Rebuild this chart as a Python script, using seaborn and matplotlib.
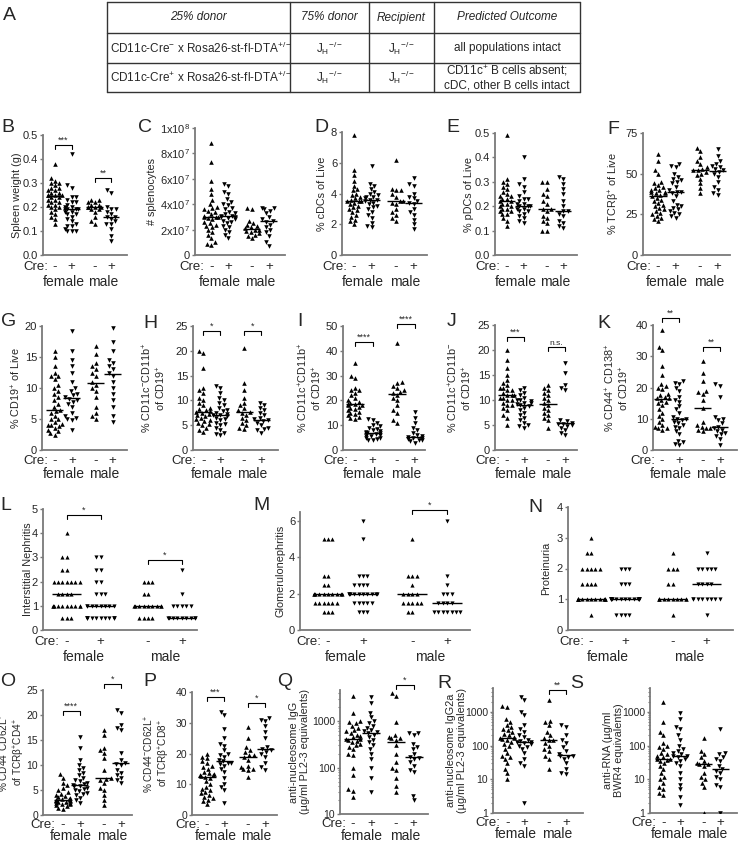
import warnings
import numpy as np
import pandas as pd
import matplotlib
matplotlib.use("Agg")
import matplotlib.pyplot as plt
import matplotlib.transforms as mtransforms
from matplotlib.ticker import LogLocator, NullFormatter, FixedLocator
import seaborn as sns

warnings.filterwarnings("ignore")

sns.set_style("ticks")
plt.rcParams['font.family'] = ['Liberation Sans', 'DejaVu Sans']
plt.rcParams['mathtext.fontset'] = 'custom'
plt.rcParams['mathtext.rm'] = 'Liberation Sans'
plt.rcParams['mathtext.it'] = 'Liberation Sans:italic'
plt.rcParams['mathtext.bf'] = 'Liberation Sans:bold'

# ---- data, groups: female Cre-, female Cre+, male Cre-, male Cre+
spleen_f_neg = [0.38, 0.32, 0.31, 0.30, 0.30, 0.29, 0.28, 0.28, 0.27, 0.27, 0.26, 0.26, 0.25, 0.25, 0.25, 0.25,
                0.24, 0.24, 0.23, 0.23, 0.22, 0.22, 0.21, 0.21, 0.20, 0.20, 0.19, 0.18, 0.17, 0.16, 0.15, 0.13]
spleen_f_pos = [0.42, 0.29, 0.28, 0.24, 0.24, 0.23, 0.22, 0.22, 0.21, 0.20, 0.20, 0.19, 0.19, 0.19, 0.19, 0.18,
                0.18, 0.17, 0.17, 0.16, 0.15, 0.14, 0.13, 0.12, 0.12, 0.11, 0.10, 0.10, 0.10]
spleen_m_neg = [0.23, 0.23, 0.22, 0.22, 0.21, 0.21, 0.20, 0.20, 0.20, 0.20, 0.19, 0.19, 0.18, 0.16, 0.14, 0.13]
spleen_m_pos = [0.27, 0.26, 0.20, 0.19, 0.19, 0.18, 0.17, 0.16, 0.16, 0.15, 0.14, 0.13, 0.13, 0.11, 0.08, 0.06]

cells_f_neg = [8.8e7, 7.3e7, 5.8e7, 5.2e7, 4.8e7, 4.3e7, 4.0e7, 3.8e7, 3.7e7, 3.6e7, 3.5e7, 3.4e7, 3.2e7, 3.1e7,
               3.0e7, 3.0e7, 3.0e7, 2.9e7, 2.8e7, 2.6e7, 2.5e7, 2.4e7, 2.3e7, 2.2e7, 2.0e7, 1.8e7, 1.6e7, 1.3e7,
               1.0e7, 0.9e7, 0.8e7]
cells_f_pos = [5.6e7, 5.4e7, 5.0e7, 4.8e7, 4.4e7, 4.2e7, 4.0e7, 3.9e7, 3.7e7, 3.6e7, 3.4e7, 3.3e7, 3.2e7, 3.1e7,
               3.1e7, 3.0e7, 3.0e7, 2.9e7, 2.8e7, 2.7e7, 2.6e7, 2.5e7, 2.3e7, 2.2e7, 2.0e7, 1.8e7, 1.6e7, 1.3e7]
cells_m_neg = [3.7e7, 3.6e7, 2.7e7, 2.5e7, 2.4e7, 2.3e7, 2.2e7, 2.1e7, 2.0e7, 2.0e7, 1.9e7, 1.8e7, 1.7e7, 1.6e7,
               1.5e7, 1.3e7]
cells_m_pos = [3.7e7, 3.7e7, 3.6e7, 3.5e7, 3.3e7, 3.0e7, 2.8e7, 2.7e7, 2.6e7, 2.4e7, 2.2e7, 2.0e7, 1.8e7, 1.5e7,
               1.0e7, 0.7e7]

cdc_f_neg = [7.8, 5.5, 5.2, 4.8, 4.5, 4.3, 4.2, 4.0, 3.9, 3.8, 3.7, 3.6, 3.5, 3.5, 3.5, 3.4, 3.3, 3.2, 3.1, 3.0,
             2.9, 2.8, 2.6, 2.5, 2.3, 2.2, 2.0]
cdc_f_pos = [5.8, 4.6, 4.5, 4.3, 4.1, 4.0, 3.9, 3.8, 3.8, 3.7, 3.6, 3.6, 3.5, 3.4, 3.3, 3.2, 3.1, 3.0, 2.8, 2.6,
             2.4, 2.1, 1.9, 1.8]
cdc_m_neg = [6.2, 4.3, 4.2, 4.2, 4.0, 3.8, 3.5, 3.5, 3.4, 3.3, 3.0, 2.8, 2.6, 2.4, 2.2]
cdc_m_pos = [5.0, 4.6, 4.5, 4.0, 3.8, 3.7, 3.5, 3.4, 3.3, 3.0, 2.8, 2.6, 2.3, 2.0, 1.7]

pdc_f_neg = [0.49, 0.31, 0.30, 0.29, 0.28, 0.27, 0.26, 0.25, 0.24, 0.24, 0.23, 0.23, 0.22, 0.22, 0.21, 0.21,
             0.20, 0.20, 0.19, 0.19, 0.18, 0.18, 0.17, 0.17, 0.15, 0.14, 0.12]
pdc_f_pos = [0.40, 0.31, 0.29, 0.28, 0.26, 0.24, 0.23, 0.23, 0.22, 0.21, 0.21, 0.20, 0.20, 0.20, 0.19, 0.19,
             0.18, 0.18, 0.17, 0.16, 0.15, 0.14, 0.13]
pdc_m_neg = [0.30, 0.30, 0.27, 0.25, 0.24, 0.22, 0.21, 0.19, 0.19, 0.18, 0.16, 0.15, 0.14, 0.13, 0.10, 0.10]
pdc_m_pos = [0.32, 0.31, 0.29, 0.27, 0.25, 0.22, 0.20, 0.18, 0.18, 0.17, 0.16, 0.14, 0.13, 0.12, 0.11]

tcr_f_neg = [62, 58, 52, 50, 45, 44, 43, 42, 41, 40, 40, 39, 39, 38, 38, 37, 36, 35, 34, 33, 32, 31, 30, 29,
             28, 27, 26, 25, 24, 23, 22, 21]
tcr_f_pos = [56, 55, 54, 50, 48, 47, 46, 45, 44, 42, 40, 39, 39, 38, 36, 33, 31, 30, 29, 28, 27, 26, 25, 24, 23]
tcr_m_neg = [66, 64, 60, 58, 56, 54, 53, 52, 52, 51, 50, 49, 47, 44, 41, 38]
tcr_m_pos = [65, 61, 58, 56, 55, 54, 53, 52, 51, 50, 48, 45, 42, 40, 38, 37]

cd19_f_neg = [16, 15, 13.5, 12.5, 12, 12, 11.5, 10.5, 10, 9.5, 9, 8.5, 8, 7.5, 7, 6.5, 6.3, 6, 5.5, 5, 5, 4.5,
              4.2, 4, 4, 3.8, 3.5, 3.2, 3, 2.7, 2.5]
cd19_f_pos = [19.2, 16, 14.5, 13.5, 12.5, 11, 10, 9.5, 9, 8.8, 8.5, 8.3, 8, 7.8, 7.5, 7, 6, 5.5, 5.2, 5, 4.8, 3.2]
cd19_m_neg = [16.8, 15.5, 14, 13.5, 13, 12.5, 12, 11, 10.5, 10, 9.5, 8.5, 7, 6, 5.5, 5.0]
cd19_m_pos = [19.7, 17.5, 16, 14.5, 14, 13.5, 13, 12.5, 12, 11, 10, 9, 8, 7, 5.5, 4.5]

dn_f_neg = [20, 19.5, 16.5, 12.5, 12, 11.5, 10.5, 10, 9.5, 9, 8.5, 8.2, 8, 7.8, 7.6, 7.5, 7.3, 7, 6.8, 6.5, 6.2,
            6, 5.8, 5.5, 5.2, 5, 4.5, 4, 3.7]
dn_f_pos = [13, 12.5, 11.5, 10.5, 10, 9.5, 9, 8.5, 8, 7.8, 7.5, 7.2, 7, 7, 6.8, 6.5, 6.2, 6, 5.5, 5.2, 5, 4.5, 4,
            3.5, 3.2, 3]
dn_m_neg = [20.5, 13.5, 12, 10.5, 9.5, 9, 8.5, 8, 7.7, 7.5, 7, 6.5, 6, 5.5, 5, 4.5, 4.2]
dn_m_pos = [9.5, 9, 8.5, 8, 7.5, 7, 6.5, 6.2, 6, 5.8, 5.5, 5, 4.5, 4.2, 4, 3.5]

dp_f_neg = [35, 30, 29, 25, 24, 24, 23, 22, 21, 20, 19.5, 19, 18.5, 18.5, 18, 18, 17.5, 17, 16.5, 16, 15.5, 15,
            14.5, 14, 13.5, 13, 12.5]
dp_f_pos = [12.5, 12, 11, 10, 9.5, 9, 8.5, 8, 7.5, 7.2, 7, 7, 6.8, 6.5, 6, 5.8, 5.5, 5, 4.8, 4.5, 4.2, 4]
dp_m_neg = [43, 27.5, 27, 26, 25, 24, 23.5, 23, 22, 21, 20, 18, 16, 15, 12, 11]
dp_m_pos = [15.5, 13, 11, 9, 8, 7, 6, 5.5, 5.3, 5, 4.8, 4.5, 4.2, 4, 3.5, 3]

sp_f_neg = [20, 18, 16.5, 15, 14, 13.5, 13, 12.5, 12.5, 12, 12, 11.5, 11, 11, 11, 10.5, 10.5, 10, 10, 9.5, 9, 9,
            8.5, 8, 7, 6.5, 5]
sp_f_pos = [12.5, 12, 11.5, 11, 10.5, 10, 10, 9.8, 9.5, 9.5, 9.2, 9, 8.8, 8.5, 8, 7.5, 7, 6.5, 6, 5.5, 5, 4.8, 4.5]
sp_m_neg = [13, 12.5, 12, 11.5, 11, 10.5, 10, 9.5, 9, 8.5, 8, 7.5, 7, 6.5, 6, 4.5]
sp_m_pos = [17.5, 15.5, 13, 12.5, 12, 6, 5.8, 5.5, 5.3, 5.2, 5, 4.8, 4.5, 4, 3.5, 3]

pc_f_neg = [38.5, 33, 32, 27, 24, 21, 20.5, 20, 19.5, 18, 17.5, 17, 16.5, 16.5, 16, 15.5, 15, 14.5, 13, 12, 11,
            10, 9, 8, 7.5, 7, 7, 6.5]
pc_f_pos = [22, 21.5, 21, 20, 19, 17, 16, 15.5, 14, 13, 12, 10.5, 10, 10, 9.5, 9, 8.5, 8, 7.5, 7, 6, 5, 3, 2.5,
            2, 1.5]
pc_m_neg = [28.5, 24.5, 22, 19, 18.5, 18, 16, 13.5, 9, 8, 7.5, 7, 7, 6.5, 6]
pc_m_pos = [21, 20.5, 17, 10.5, 10, 9.5, 8.5, 7.5, 7, 6.5, 6, 5.5, 5, 4.5, 3.5, 1.5]

in_f_neg = [4] + [3] * 2 + [2.5] * 2 + [2] * 7 + [1.5] * 4 + [1] * 10 + [0.5] * 3
in_f_pos = [3] * 2 + [2.5] * 2 + [2] * 2 + [1.5] * 3 + [1] * 8 + [0.5] * 12
in_m_neg = [2] * 3 + [1.5] * 2 + [1] * 9 + [0.5] * 4
in_m_pos = [2.5] + [1.5] + [1] * 5 + [0.5] * 9

gn_f_neg = [5] * 3 + [3] * 2 + [2.5] * 2 + [2] * 10 + [1.5] * 6 + [1] * 3
gn_f_pos = [6, 5] + [3] * 3 + [2.5] * 4 + [2] * 10 + [1.5] * 5 + [1] * 3
gn_m_neg = [5] + [3] * 3 + [2.5] + [2] * 4 + [1.5] * 5 + [1] * 2
gn_m_pos = [6, 3, 2.5] + [2] * 3 + [1.5] * 4 + [1] * 7

pu_f_neg = [3] + [2.5] * 2 + [2] * 5 + [1.5] * 4 + [1] * 14 + [0.5]
pu_f_pos = [2] * 3 + [1.5] * 3 + [1] * 16 + [0.5] * 4
pu_m_neg = [2.5] + [2] * 3 + [1.5] * 2 + [1] * 10 + [0.5]
pu_m_pos = [2.5] + [2] * 5 + [1.5] * 4 + [1] * 8 + [0.5]

cd4_f_neg = [8.3, 7.5, 6.5, 6, 5.5, 5, 4.6, 4.3, 4, 3.8, 3.6, 3.5, 3.3, 3.2, 3.1, 3.1, 3, 2.9, 2.8, 2.7, 2.6, 2.5,
             2.4, 2.3, 2.2, 2, 1.8, 1.5, 1.3]
cd4_f_pos = [15.7, 13.5, 11, 10, 9.5, 9, 8.5, 8, 7.5, 7, 6.8, 6.5, 6.2, 6, 5.9, 5.8, 5.5, 5.2, 5, 4.8, 4.5, 4.2,
             4, 3.5, 3, 2.5]
cd4_m_neg = [17, 16, 13.5, 13, 12.5, 11.5, 9, 7.5, 7.3, 7, 6.5, 5.5, 5, 4, 3, 2]
cd4_m_pos = [21, 20.5, 18, 17.5, 17, 12.5, 11, 10.5, 10.3, 10, 9, 8.5, 8, 7.5, 7, 6.5]

cd8_f_neg = [20, 19, 18.5, 17.5, 17, 16, 15.5, 15, 14, 13.5, 13.2, 13, 13, 12.8, 12.5, 12, 11, 10, 9, 8.5, 8, 7.5,
             7, 6.5, 6, 5.5, 5, 4.5, 3.5]
cd8_f_pos = [33.5, 32.5, 28, 25, 23, 22.5, 21, 20, 19.5, 19, 18, 17.5, 17, 17, 16.5, 16, 15, 14, 12, 10, 9, 8, 4]
cd8_m_neg = [28.5, 25, 22, 21, 20.5, 19.5, 19.5, 19, 18, 16, 15.5, 15, 15, 14.5, 12.5]
cd8_m_pos = [31.5, 31, 30.5, 29, 27, 25, 22, 21.5, 21, 20.5, 20, 19, 17, 15.5, 14.5]

nuc_f_neg = [3500, 1500, 1000, 950, 900, 800, 700, 650, 600, 550, 500, 480, 450, 420, 420, 400, 380, 350, 320,
             300, 280, 250, 200, 190, 100, 70, 35, 32, 23]
nuc_f_pos = [3300, 2500, 1500, 1200, 1000, 900, 800, 700, 650, 600, 590, 560, 500, 450, 400, 350, 300, 250, 200,
             150, 100, 60, 30]
nuc_m_neg = [4000, 3500, 950, 500, 450, 430, 430, 400, 300, 200, 130, 100, 90, 60, 40, 30]
nuc_m_pos = [550, 550, 500, 320, 280, 250, 200, 170, 160, 150, 130, 110, 90, 80, 25, 20]

g2a_f_neg = [1500, 1400, 600, 500, 400, 350, 300, 280, 250, 220, 200, 180, 170, 170, 160, 150, 130, 110, 100,
             80, 60, 50, 45, 40, 30, 20, 15, 10]
g2a_f_pos = [2800, 2200, 1000, 800, 400, 300, 250, 200, 180, 150, 140, 130, 125, 120, 110, 100, 90, 80, 60, 40,
             30, 25, 2]
g2a_m_neg = [2200, 550, 500, 400, 250, 200, 170, 150, 150, 120, 100, 80, 70, 50, 40, 20]
g2a_m_pos = [400, 350, 200, 150, 120, 90, 70, 55, 50, 50, 45, 40, 30, 20, 15, 14]

rna_f_neg = [2000, 500, 250, 200, 120, 100, 90, 80, 60, 55, 50, 45, 40, 40, 38, 35, 30, 25, 20, 15, 12, 10, 8,
             6, 5, 4, 3.5]
rna_f_pos = [900, 600, 350, 300, 200, 150, 100, 80, 70, 60, 55, 50, 48, 45, 40, 35, 30, 25, 15, 10, 7, 5, 3, 1.7]
rna_m_neg = [170, 70, 55, 45, 35, 30, 28, 28, 25, 15, 12, 10, 8, 6, 1]
rna_m_pos = [300, 60, 55, 45, 40, 35, 25, 20, 18, 15, 12, 10, 7, 6, 1]

cre_labels = ['-', '+', '-', '+']
sex_labels = ['female', 'male']

# ---- layout
W, H = 740, 842
fig = plt.figure(figsize=(W / 100, H / 100), dpi=100)
POS = [0, 1, 2.4, 3.4]
MARKS = ['^', 'v', '^', 'v']
AXCOL = '#7a7a7a'
PT = 0.72  # points per pixel at 100 dpi


def add_ax(x0, x1, ytop, ybot):
    return fig.add_axes([x0 / W, 1 - ybot / H, (x1 - x0) / W, (ybot - ytop) / H])


def bracket(ax, i0, i1, y, text, hpx):
    yf = ax.transAxes.inverted().transform(ax.transData.transform((0, y)))[1]
    drop = 4 / hpx
    tr = mtransforms.blended_transform_factory(ax.transData, ax.transAxes)
    x0, x1 = POS[i0], POS[i1]
    ax.plot([x0, x0, x1, x1], [yf - drop, yf, yf, yf - drop], color='black', lw=0.8,
            transform=tr, clip_on=False)
    ax.text((x0 + x1) / 2, yf + 0.2 / hpx, text, transform=tr, ha='center', va='bottom',
            fontsize=6.5 if text != 'n.s.' else 6)


def panel(letter, lxy, box, groups, ylim, yticks, ylabel, lab_right, xlim, offs=(12, 27), log=False,
          yticklabels=None, brackets=(), half=0.5, size=3.3, tick_fs=8, lab_fs=7.8):
    ax = add_ax(*box)
    hpx = box[3] - box[2]
    if log:
        ax.set_yscale('log')
    ax.set_ylim(*ylim)
    ax.set_xlim(*xlim)
    for pos, mk, vals in zip(POS, MARKS, groups):
        df = pd.DataFrame({'x': [pos] * len(vals), 'y': vals})
        sns.swarmplot(data=df, x='x', y='y', native_scale=True, orient='x', marker=mk,
                      color='black', size=size, linewidth=0, ax=ax, warn_thresh=1)
        ax.hlines(np.median(vals), pos - half, pos + half, color='black', lw=1, zorder=5)
    ax.set_xlim(*xlim)
    ax.set_ylim(*ylim)
    sns.despine(ax=ax)
    for s in ['left', 'bottom']:
        ax.spines[s].set_color(AXCOL)
        ax.spines[s].set_linewidth(1.3)
    ax.set_xticks(POS)
    ax.set_xticklabels([])
    ax.tick_params(axis='x', length=0)
    ax.tick_params(axis='y', length=2.5, width=1, color=AXCOL, labelsize=tick_fs, pad=1)
    if log:
        ax.yaxis.set_major_locator(FixedLocator(yticks))
        ax.yaxis.set_minor_locator(LogLocator(base=10, subs=np.arange(2, 10)))
        ax.yaxis.set_minor_formatter(NullFormatter())
        ax.tick_params(axis='y', which='minor', length=1.8, width=0.8, color=AXCOL)
        ax.set_yticklabels([str(t) for t in yticks])
    else:
        ax.set_yticks(yticks)
        if yticklabels is not None:
            ax.set_yticklabels(yticklabels)
    ax.set_xlabel('')
    ax.set_ylabel(ylabel, fontsize=lab_fs, linespacing=1.1)
    ax.yaxis.set_label_coords((lab_right - box[0]) / (box[1] - box[0]), 0.5)
    tr = mtransforms.blended_transform_factory(ax.transData, ax.transAxes)
    for pos, lab in zip(POS, cre_labels):
        ax.annotate(lab, xy=(pos, 0), xycoords=tr, xytext=(0, -offs[0] * PT), textcoords='offset points',
                    ha='center', va='center', fontsize=9.5)
    ax.annotate('Cre:', xy=(0, 0), xycoords=tr, xytext=(-7 * PT, -offs[0] * PT), textcoords='offset points',
                ha='right', va='center', fontsize=9.5)
    for xc, lab in zip([0.5, 2.9], sex_labels):
        ax.annotate(lab, xy=(xc, 0), xycoords=tr, xytext=(0, -offs[1] * PT), textcoords='offset points',
                    ha='center', va='center', fontsize=10)
    for b in brackets:
        bracket(ax, b[0], b[1], b[2], b[3], hpx)
    fig.text(lxy[0] / W, 1 - lxy[1] / H, letter, fontsize=14, va='top', ha='left')
    return ax


# ---- table A
tab = fig.add_axes([0, 0, 1, 1])
tab.set_xlim(0, W)
tab.set_ylim(H, 0)
tab.axis('off')
cols = [107, 290, 369, 434, 580]
rows = [2, 33, 63, 92]
for c in cols:
    tab.plot([c, c], [rows[0], rows[-1]], color='#333333', lw=1)
for r in rows:
    tab.plot([cols[0], cols[-1]], [r, r], color='#333333', lw=1)
headers = ['25% donor', '75% donor', 'Recipient', 'Predicted Outcome']
for i, h in enumerate(headers):
    tab.text((cols[i] + cols[i + 1]) / 2, (rows[0] + rows[1]) / 2, h, ha='center', va='center',
             fontsize=8.5, style='italic')
jh = r'J$_\mathregular{H}$$^\mathregular{-/-}$'
row_text = [
    [r'CD11c-Cre$^\mathregular{-}$ x Rosa26-st-fl-DTA$^\mathregular{+/-}$', jh, jh, 'all populations intact'],
    [r'CD11c-Cre$^\mathregular{+}$ x Rosa26-st-fl-DTA$^\mathregular{+/-}$', jh, jh,
     'CD11c$^\\mathregular{+}$ B cells absent;\ncDC, other B cells intact'],
]
for r, cells in enumerate(row_text):
    yc = (rows[r + 1] + rows[r + 2]) / 2
    tab.text(cols[0] + 3, yc, cells[0], ha='left', va='center', fontsize=8.5)
    for i in range(1, 4):
        tab.text((cols[i] + cols[i + 1]) / 2, yc, cells[i], ha='center', va='center', fontsize=8.5,
                 linespacing=1.1)
fig.text(3 / W, 1 - 7 / H, 'A', fontsize=14, va='top', ha='left')

# ---- row 1
panel('B', (1, 119), (43, 127, 135, 255),
      [spleen_f_neg, spleen_f_pos, spleen_m_neg, spleen_m_pos], (0, 0.5), [0, 0.1, 0.2, 0.3, 0.4, 0.5],
      'Spleen weight (g)', 22, (-0.73, 4.36), yticklabels=['0.0', '0.1', '0.2', '0.3', '0.4', '0.5'],
      brackets=[(0, 1, 0.46, '***'), (2, 3, 0.32, '**')])
panel('C', (138, 119), (195, 285, 128, 255),
      [cells_f_neg, cells_f_pos, cells_m_neg, cells_m_pos], (0, 1e8), [0, 2e7, 4e7, 6e7, 8e7, 1e8],
      '# splenocytes', 157, (-0.95, 4.35),
      yticklabels=['0', r'2x10$^\mathregular{7}$', r'4x10$^\mathregular{7}$', r'6x10$^\mathregular{7}$',
                   r'8x10$^\mathregular{7}$', r'1x10$^\mathregular{8}$'])
panel('D', (314, 119), (342, 427, 132, 255),
      [cdc_f_neg, cdc_f_pos, cdc_m_neg, cdc_m_pos], (0, 8), [0, 2, 4, 6, 8], '% cDCs of Live', 327,
      (-0.69, 4.17))
panel('E', (446, 119), (495, 577, 133, 255),
      [pdc_f_neg, pdc_f_pos, pdc_m_neg, pdc_m_pos], (0, 0.5), [0, 0.1, 0.2, 0.3, 0.4, 0.5],
      '% pDCs of Live', 474, (-0.73, 4.24), yticklabels=['0.0', '0.1', '0.2', '0.3', '0.4', '0.5'])
panel('F', (607, 121), (643, 730, 133, 255),
      [tcr_f_neg, tcr_f_pos, tcr_m_neg, tcr_m_pos], (0, 75), [0, 25, 50, 75],
      r'% TCRβ$^\mathregular{+}$ of Live', 622, (-0.86, 4.11))

# ---- row 2
panel('G', (1, 313), (42, 127, 326, 450),
      [cd19_f_neg, cd19_f_pos, cd19_m_neg, cd19_m_pos], (0, 20), [0, 5, 10, 15, 20],
      r'% CD19$^\mathregular{+}$ of Live', 23, (-0.76, 4.24), offs=(11, 24))
panel('H', (143, 315), (193, 278, 326, 450),
      [dn_f_neg, dn_f_pos, dn_m_neg, dn_m_pos], (0, 25), [0, 5, 10, 15, 20, 25],
      '% CD11c$^\\mathregular{-}$CD11b$^\\mathregular{+}$\nof CD19$^\\mathregular{+}$', 168, (-0.6, 4.4),
      offs=(11, 24), brackets=[(0, 1, 24, '*'), (2, 3, 24, '*')])
panel('I', (297, 313), (343, 425, 326, 450),
      [dp_f_neg, dp_f_pos, dp_m_neg, dp_m_pos], (0, 50), [0, 10, 20, 30, 40, 50],
      '% CD11c$^\\mathregular{+}$CD11b$^\\mathregular{+}$\nof CD19$^\\mathregular{+}$', 324, (-0.69, 4.0),
      offs=(11, 24), brackets=[(0, 1, 43.7, '****'), (2, 3, 50.8, '****')])
panel('J', (447, 313), (495, 577, 325, 450),
      [sp_f_neg, sp_f_pos, sp_m_neg, sp_m_pos], (0, 25), [0, 5, 10, 15, 20, 25],
      '% CD11c$^\\mathregular{+}$CD11b$^\\mathregular{-}$\nof CD19$^\\mathregular{+}$', 474, (-0.7, 4.1),
      offs=(11, 24), brackets=[(0, 1, 22.6, '***'), (2, 3, 20.6, 'n.s.')])
panel('K', (597, 315), (653, 737, 325, 450),
      [pc_f_neg, pc_f_pos, pc_m_neg, pc_m_pos], (0, 40), [0, 10, 20, 30, 40],
      '% CD44$^\\mathregular{+}$ CD138$^\\mathregular{+}$\nof CD19$^\\mathregular{+}$', 631, (-0.53, 4.4),
      offs=(11, 24), brackets=[(0, 1, 42.2, '**'), (2, 3, 33, '**')])

# ---- row 3
panel('L', (0, 497), (43, 197, 509, 630),
      [in_f_neg, in_f_pos, in_m_neg, in_m_pos], (0, 5), [0, 1, 2, 3, 4, 5], 'Interstitial Nephritis', 33,
      (-0.7, 3.85), half=0.42, size=3.0,
      brackets=[(0, 1, 4.75, '*'), (2, 3, 2.9, '*')])
panel('M', (253, 497), (300, 470, 512, 630),
      [gn_f_neg, gn_f_pos, gn_m_neg, gn_m_pos], (0, 6.5), [0, 2, 4, 6], 'Glomerulonephritis', 285,
      (-0.8, 4.05), half=0.42, size=3.0,
      brackets=[(2, 3, 6.6, '*')])
panel('N', (528, 499), (568, 733, 507, 630),
      [pu_f_neg, pu_f_pos, pu_m_neg, pu_m_pos], (0, 4), [0, 1, 2, 3, 4], 'Proteinuria', 551,
      (-0.68, 4.18), half=0.42, size=3.0)

# ---- row 4
panel('O', (0, 673), (43, 132, 690, 815),
      [cd4_f_neg, cd4_f_pos, cd4_m_neg, cd4_m_pos], (0, 25), [0, 5, 10, 15, 20, 25],
      '% CD44$^\\mathregular{-}$CD62L$^\\mathregular{+}$\nof TCRβ$^\\mathregular{+}$CD4$^\\mathregular{+}$', 27,
      (-1.15, 4.05), offs=(10, 21.5), tick_fs=7.5, lab_fs=7.2,
      brackets=[(0, 1, 20.8, '****'), (2, 3, 26.2, '*')])
panel('P', (143, 673), (192, 277, 692, 815),
      [cd8_f_neg, cd8_f_pos, cd8_m_neg, cd8_m_pos], (0, 40), [0, 10, 20, 30, 40],
      '% CD44$^\\mathregular{-}$CD62L$^\\mathregular{+}$\nof TCRβ$^\\mathregular{+}$CD8$^\\mathregular{+}$', 172,
      (-0.88, 4.1), offs=(10, 21.5), tick_fs=7.5, lab_fs=7.2,
      brackets=[(0, 1, 38.5, '***'), (2, 3, 36.4, '*')])
panel('Q', (277, 673), (340, 428, 690, 814),
      [nuc_f_neg, nuc_f_pos, nuc_m_neg, nuc_m_pos], (10, 4650), [10, 100, 1000],
      'anti-nucleosome IgG\n(µg/ml PL2-3 equivalents)', 310, (-0.72, 4.2), offs=(10, 21.5), log=True,
      tick_fs=7.5, brackets=[(2, 3, 6000, '*')])
panel('R', (437, 675), (493, 583, 688, 813),
      [g2a_f_neg, g2a_f_pos, g2a_m_neg, g2a_m_pos], (1, 5100), [1, 10, 100, 1000],
      'anti-nucleosome IgG2a\n(µg/ml PL2-3 equivalents)', 467, (-0.82, 4.4), offs=(10, 21.5), log=True,
      tick_fs=7.5, brackets=[(2, 3, 4500, '**')])
panel('S', (570, 675), (650, 737, 688, 813),
      [rna_f_neg, rna_f_pos, rna_m_neg, rna_m_pos], (1, 5100), [1, 10, 100, 1000],
      'anti-RNA (µg/ml\nBWR4 equivalents)', 624, (-0.8, 4.4), offs=(10, 21.5), log=True, tick_fs=7.5)

fig.savefig('out.png', dpi=100)
